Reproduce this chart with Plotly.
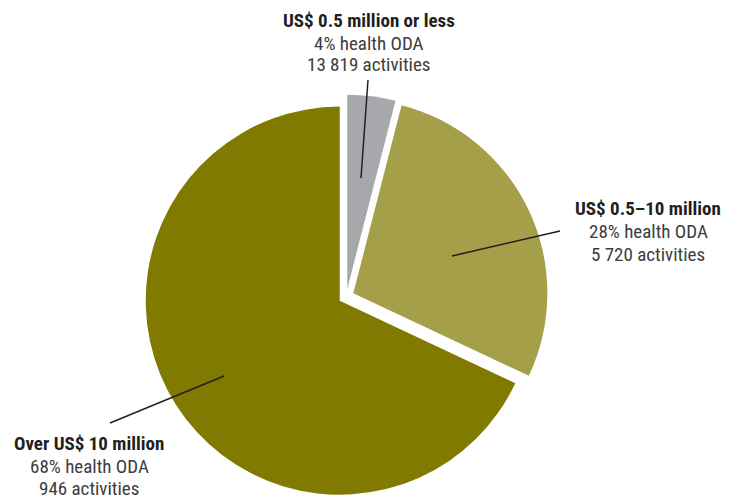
import plotly.graph_objects as go

# Data
categories = ["US$ 0.5 million or less", "US$ 0.5–10 million", "Over US$ 10 million"]
share_pct = [4, 28, 68]
activities = ["13 819", "5 720", "946"]
colors = ["#a7a8ac", "#a69f4a", "#807a00"]

# The page body has an 8px margin; size the figure so it fits the 729x500 window
OFF = 8
W, H = 729 - OFF, 500 - OFF
FONT = "Liberation Sans Narrow, Arial Narrow, Roboto Condensed, Liberation Sans, sans-serif"

def px(x, y):
    """window pixel -> paper coords"""
    return (x - OFF) / W, 1 - (y - OFF) / H

# pie geometry (window pixels)
cx, cy, half = 346.3, 296.5, 201.8
x0, y0 = px(cx - half, cy + half)
x1, y1 = px(cx + half, cy - half)

fig = go.Figure(go.Pie(
    labels=categories,
    values=share_pct,
    sort=False,
    direction="clockwise",
    rotation=0,
    pull=[0.04, 0.04, 0.04],
    marker=dict(colors=colors, line=dict(width=0)),
    textinfo="none",
    hoverinfo="label+percent",
    showlegend=False,
    domain=dict(x=[x0, x1], y=[y0, y1]),
))

# label centre x and the y of each of its three lines (window pixels)
label_x = [369, 648, 89]
label_lines_y = [(21, 43, 65), (208, 231, 254), (443, 466, 488)]
leaders = [((368, 80), (361, 178)), ((560, 231), (452, 256)), ((110, 423), (224, 376))]

for cat, pct, act, lx, ys in zip(categories, share_pct, activities, label_x, label_lines_y):
    lines = [(f"<b>{cat}</b>", "#231f20"),
             (f"{pct}% health ODA", "#3d3d3d"),
             (f"{act} activities", "#3d3d3d")]
    for (txt, col), ly in zip(lines, ys):
        ax_, ay_ = px(lx, ly)
        fig.add_annotation(
            x=ax_, y=ay_, xref="paper", yref="paper",
            xanchor="center", yanchor="middle", showarrow=False, align="center",
            borderpad=0,
            text=txt, font=dict(family=FONT, size=19, color=col),
        )

for (a, b) in leaders:
    xa, ya = px(*a)
    xb, yb = px(*b)
    fig.add_shape(type="line", xref="paper", yref="paper",
                  x0=xa, y0=ya, x1=xb, y1=yb,
                  line=dict(color="#231f20", width=1.5))

fig.update_layout(
    width=W, height=H,
    margin=dict(l=0, r=0, t=0, b=0),
    paper_bgcolor="white", plot_bgcolor="white",
    font=dict(family=FONT),
)

fig.write_html("out.html")
